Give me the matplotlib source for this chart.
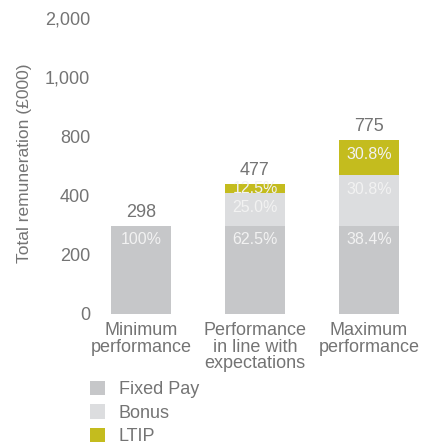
import numpy as np
import matplotlib
matplotlib.use("Agg")
import matplotlib.pyplot as plt
from matplotlib.patches import Patch

# Remuneration scenarios (£000) and pay mix
scenarios = ["Minimum\nperformance", "Performance\nin line with\nexpectations", "Maximum\nperformance"]
totals = [298, 477, 775]
fixed_pct = [100.0, 62.5, 38.4]
bonus_pct = [0.0, 25.0, 30.8]
ltip_pct = [0.0, 12.5, 30.8]

component_names = ["Fixed Pay", "Bonus", "LTIP"]
component_colors = ["#c6c7c9", "#dcdddf", "#c4bc1e"]

# Axis ticks shown at equal spacing
y_ticks = [0, 200, 400, 800, 1000, 2000]
y_tick_labels = ["0", "200", "400", "800", "1,000", "2,000"]

TEXT = "#747474"
plt.rcParams["font.family"] = ["Liberation Sans", "DejaVu Sans"]

fig = plt.figure(figsize=(4.27, 4.45), dpi=100)
W, H = 427, 445
ax_left, ax_right, ax_bottom, ax_top = 95, 420, 314, 18
ax = fig.add_axes([ax_left / W, (H - ax_bottom) / H,
                   (ax_right - ax_left) / W, (ax_bottom - ax_top) / H])

# Piecewise scale: each tick interval gets the same height
tick_idx = np.arange(len(y_ticks), dtype=float)
def fwd(v):
    return np.interp(v, y_ticks, tick_idx)
def inv(p):
    return np.interp(p, tick_idx, y_ticks)
ax.set_yscale("function", functions=(fwd, inv))
ax.set_ylim(0, 2000)

x = np.arange(len(scenarios))
width = 0.526
ax.set_xlim((ax_left - 141) / 114, (ax_right - 141) / 114)

totals_arr = np.array(totals, dtype=float)
pcts = [np.array(fixed_pct), np.array(bonus_pct), np.array(ltip_pct)]
segments = [totals_arr * p / 100.0 for p in pcts]

bottom = np.zeros(len(x))
seg_info = []
for seg, pct, color in zip(segments, pcts, component_colors):
    ax.bar(x, seg, width, bottom=bottom, color=color, linewidth=0)
    for i in range(len(x)):
        if pct[i] > 0:
            seg_info.append((x[i], bottom[i], bottom[i] + seg[i], pct[i]))
    bottom = bottom + seg

fig.canvas.draw()
to_px = ax.transData
for xi, b, t, p in seg_info:
    y_top_px = to_px.transform((xi, t))[1]
    y_bot_px = to_px.transform((xi, b))[1]
    seg_h = y_top_px - y_bot_px
    off_px = min(14.0, seg_h / 2.0)
    ax.annotate(f"{p:.1f}%" if p < 100 else "100%", xy=(xi, t),
                xytext=(0, -off_px * 72 / fig.dpi), textcoords="offset points",
                ha="center", va="center", fontsize=11.5, color="#f2f2f2")

for xi, tot in zip(x, totals):
    ax.annotate(f"{tot}", xy=(xi, tot), xytext=(0, 3.5), textcoords="offset points",
                ha="center", va="bottom", fontsize=13, color=TEXT)

ax.set_yticks(y_ticks)
ax.set_yticklabels(y_tick_labels)
ax.minorticks_off()
ax.set_xticks(x)
ax.set_xticklabels(scenarios, linespacing=0.95)
ax.tick_params(axis="both", length=0, labelsize=13, labelcolor=TEXT)
ax.tick_params(axis="y", pad=3.5)
ax.tick_params(axis="x", pad=6)
for s in ax.spines.values():
    s.set_visible(False)

ax.set_ylabel("Total remuneration (£000)", fontsize=12.5, color=TEXT)
ax.yaxis.set_label_coords(-0.195, 0.51)

handles = [Patch(facecolor=c, edgecolor="none") for c in component_colors]
fig.legend(handles, component_names, loc="upper left",
           bbox_to_anchor=(90 / W, (H - 381) / H), frameon=False,
           fontsize=13, labelcolor=TEXT, handlelength=0.85, handleheight=0.85,
           handletextpad=0.75, labelspacing=0.33, borderpad=0, borderaxespad=0)

fig.savefig("out.png", dpi=100)
